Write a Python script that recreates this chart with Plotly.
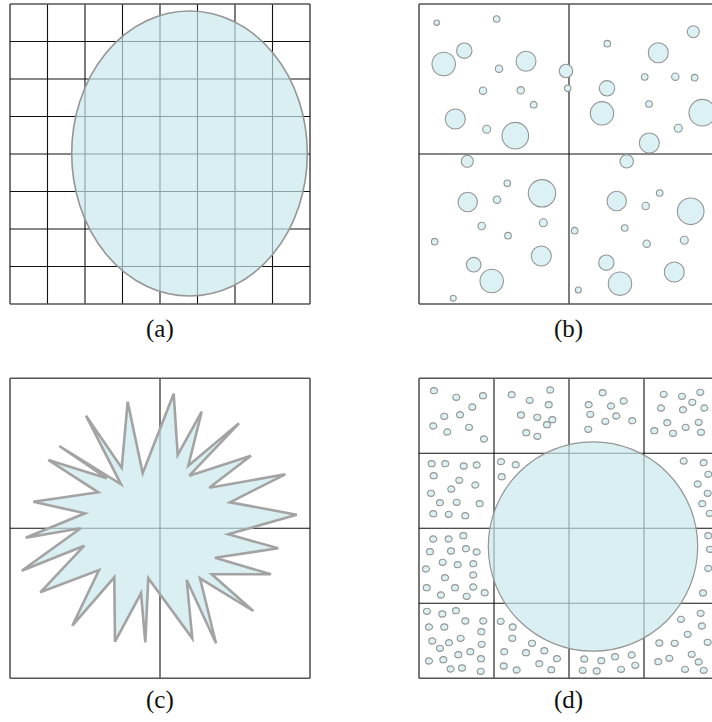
import plotly.graph_objects as go

# ---------------- data ----------------
# panel (a): regular grid and an ellipse
a_grid_x = [10, 47.5, 85, 122.5, 160, 197.5, 235, 272.5, 310]
a_grid_y = [4, 41.5, 79, 116.5, 154, 191.5, 229, 266.5, 304]
a_ellipse_center = [189.5, 153.5]
a_ellipse_radii = [117.8, 142.5]

# panel (b): 2x2 cells and scattered bubbles
b_grid_x = [419, 569, 719]
b_grid_y = [4, 154, 304]
b_bub_x = [436.7, 496.7, 464.3, 443.7, 526.0, 499.0, 566.0, 483.0, 520.7, 567.7, 533.7, 455.3, 486.7, 515.3,
           693.3, 607.3, 658.3, 644.7, 675.3, 694.7, 607.0, 649.0, 602.0, 702.3, 678.3, 649.3,
           467.3, 507.3, 542.0, 467.7, 497.0, 543.3, 481.7, 508.0, 434.7, 541.3, 473.7, 491.7, 453.3,
           626.7, 659.7, 616.7, 645.7, 690.7, 574.7, 624.7, 684.3, 646.7, 606.3, 674.3, 620.0, 578.3]
b_bub_y = [22.7, 19.0, 50.7, 64.0, 61.3, 68.7, 71.0, 90.7, 90.3, 88.3, 104.7, 119.0, 129.3, 135.7,
           31.7, 43.7, 52.7, 77.0, 76.7, 77.7, 88.3, 104.0, 113.3, 112.7, 128.3, 143.0,
           161.3, 183.3, 193.3, 202.0, 199.7, 222.7, 226.0, 235.7, 241.7, 256.0, 264.7, 281.0, 298.3,
           161.3, 193.0, 201.0, 206.0, 211.3, 230.7, 228.0, 240.3, 243.7, 262.7, 272.0, 283.7, 290.0]
b_bub_r = [2.7, 3.3, 7.7, 11.7, 10.0, 3.7, 6.7, 3.7, 3.7, 3.3, 3.3, 10.0, 4.0, 13.3,
           6.0, 3.3, 10.0, 3.3, 3.7, 3.3, 7.7, 3.3, 11.7, 13.3, 4.0, 10.0,
           6.0, 3.3, 13.7, 9.7, 3.7, 4.0, 3.7, 3.3, 3.3, 10.0, 7.3, 11.7, 3.0,
           6.7, 3.3, 9.7, 3.7, 13.3, 3.3, 3.3, 4.0, 3.7, 7.7, 10.0, 11.7, 3.0]

# panel (c): 2x2 cells and an irregular star
c_grid_x = [10, 160, 310]
c_grid_y = [378.3, 528.3, 678.3]
star_x = [173.7, 177.7, 201.7, 188.3, 239.0, 189.3, 251.0, 209.3, 285.3, 230.0, 296.7, 228.3,
          278.3, 215.0, 271.0, 211.7, 253.3, 200.0, 216.0, 186.7, 192.3, 148.3, 145.3, 141.0,
          115.0, 114.3, 72.3, 99.0, 40.3, 84.3, 21.7, 80.7, 25.7, 85.0, 33.3, 98.3,
          48.3, 106.7, 59.3, 121.0, 86.0, 121.7, 127.7, 142.7]
star_y = [393.7, 455.0, 411.7, 465.7, 423.3, 475.7, 455.7, 487.7, 474.3, 502.3, 514.7, 534.3,
          548.3, 557.7, 574.3, 574.3, 611.0, 578.3, 643.3, 580.0, 638.3, 578.3, 642.3, 593.3,
          641.7, 577.3, 625.7, 570.0, 592.3, 545.7, 570.7, 528.3, 537.7, 513.3, 501.7, 492.3,
          460.0, 478.3, 446.0, 484.3, 415.7, 467.7, 401.7, 473.3]

# panel (d): 4x4 cells, a big circle and many small particles
d_grid_x = [419, 494, 569, 644, 719]
d_grid_y = [378.3, 453.3, 528.3, 603.3, 678.3]
d_circle_center = [593, 546.5]
d_circle_radius = 104.7
d_part_x = [434.0, 456.3, 483.0, 472.3, 460.0, 444.3, 433.3, 447.3, 469.0, 484.0,
            511.7, 550.3, 529.7, 548.7, 521.0, 537.3, 552.3, 547.0, 526.3, 537.3,
            602.7, 623.7, 588.7, 611.0, 590.3, 616.3, 605.3, 632.3, 588.3,
            663.7, 682.0, 700.3, 692.3, 661.0, 683.0, 704.3, 667.3, 654.3, 673.0, 685.7, 698.7, 701.0,
            431.7, 445.3, 463.7, 476.7, 433.7, 459.3, 475.3, 451.3, 431.0, 440.0, 456.7, 479.7, 433.3, 448.7, 465.3,
            501.0, 515.7, 501.7,
            683.7, 703.7, 708.3, 697.7, 707.7, 702.3, 709.7,
            433.3, 448.7, 463.3, 430.0, 451.0, 466.0, 476.7, 442.7, 457.7, 473.3, 426.0, 445.0, 473.3,
            426.7, 455.0, 473.3, 441.0, 466.7, 484.7,
            708.3, 710.0, 708.3, 703.0,
            427.0, 442.3, 456.0, 465.3, 483.3, 429.0, 444.3, 481.3, 432.3, 449.0, 460.7, 481.7, 440.0,
            458.3, 470.3, 481.0, 429.0, 443.3, 450.7, 462.0, 480.7,
            500.7, 512.7, 512.3, 532.0, 504.3, 526.0, 544.3, 557.0, 503.7, 516.7, 539.3, 551.3,
            584.3, 601.3, 615.0, 631.7, 582.7, 596.7, 621.0, 635.3,
            700.7, 681.0, 702.0, 687.7, 707.7, 659.3, 674.7, 691.7, 658.3, 669.3, 685.0, 698.7, 703.7]
d_part_y = [390.7, 397.3, 395.7, 407.0, 414.7, 416.3, 426.0, 432.0, 427.3, 439.0,
            394.7, 390.0, 400.3, 404.7, 415.0, 417.3, 419.7, 424.7, 432.7, 436.3,
            392.7, 401.0, 404.7, 406.0, 414.3, 416.0, 421.3, 420.7, 429.3,
            394.3, 396.3, 392.3, 402.3, 408.0, 409.7, 408.0, 422.7, 430.7, 433.3, 427.3, 422.3, 432.3,
            463.7, 463.7, 466.0, 465.0, 475.7, 480.3, 485.0, 489.0, 493.3, 502.7, 502.3, 503.7, 513.7, 514.3, 515.7,
            461.7, 464.7, 476.7,
            461.0, 462.7, 474.3, 484.0, 493.3, 503.7, 513.3,
            539.0, 539.0, 535.7, 551.7, 551.0, 548.7, 552.0, 562.3, 564.7, 563.7, 569.0, 577.7, 575.0,
            587.7, 587.7, 587.0, 595.0, 596.3, 592.7,
            535.7, 549.3, 568.3, 593.0,
            611.3, 614.0, 610.7, 621.0, 621.0, 627.0, 627.0, 631.7, 641.0, 642.7, 638.3, 644.3, 648.3,
            654.7, 651.7, 658.7, 661.0, 659.7, 669.0, 668.0, 671.3,
            621.3, 627.0, 638.3, 643.3, 651.7, 652.7, 650.7, 658.7, 666.0, 670.0, 663.7, 669.7,
            659.0, 660.7, 656.7, 655.0, 670.3, 671.0, 669.3, 665.3,
            613.3, 619.3, 626.0, 634.3, 642.3, 643.0, 643.3, 654.3, 661.7, 658.3, 669.3, 662.0, 670.3]
d_part_r = 3.5

panel_labels = ["(a)", "(b)", "(c)", "(d)"]
label_x = [160, 568, 160, 568]
label_y = [329, 329, 700, 700]

# ---------------- styles ----------------
FILL_T = "rgba(200,232,236,0.68)"   # translucent fill over grid lines
FILL = "#dbf1f3"
EDGE = "#959595"
LINE = "#111111"
BORDER = "#555555"

shapes = []


def grid(xs, ys):
    for i, x in enumerate(xs):
        outer = i in (0, len(xs) - 1)
        shapes.append(dict(type="line", xref="x", yref="y", x0=x, x1=x, y0=ys[0], y1=ys[-1],
                           line=dict(color=BORDER if outer else LINE, width=1.6 if outer else 1.1)))
    for j, y in enumerate(ys):
        outer = j in (0, len(ys) - 1)
        shapes.append(dict(type="line", xref="x", yref="y", x0=xs[0], x1=xs[-1], y0=y, y1=y,
                           line=dict(color=BORDER if outer else LINE, width=1.6 if outer else 1.1)))


def circle(cx, cy, rx, ry, fill, edge, width):
    shapes.append(dict(type="circle", xref="x", yref="y", x0=cx - rx, x1=cx + rx, y0=cy - ry, y1=cy + ry,
                       fillcolor=fill, line=dict(color=edge, width=width)))


# (a)
grid(a_grid_x, a_grid_y)
circle(a_ellipse_center[0], a_ellipse_center[1], a_ellipse_radii[0], a_ellipse_radii[1], FILL_T, EDGE, 1.6)

# (b)
grid(b_grid_x, b_grid_y)
for x, y, r in zip(b_bub_x, b_bub_y, b_bub_r):
    circle(x, y, r, r, FILL, EDGE, 1.1)

# (c)
grid(c_grid_x, c_grid_y)
path = "M " + " L ".join(f"{x},{y}" for x, y in zip(star_x, star_y)) + " Z"
shapes.append(dict(type="path", xref="x", yref="y", path=path, fillcolor=FILL_T,
                   line=dict(color="#a3a3a3", width=2.6)))

# (d)
grid(d_grid_x, d_grid_y)
for x, y in zip(d_part_x, d_part_y):
    circle(x, y, d_part_r, d_part_r * 0.88, FILL, EDGE, 1.1)
circle(d_circle_center[0], d_circle_center[1], d_circle_radius, d_circle_radius, FILL_T, EDGE, 1.2)

fig = go.Figure()
fig.add_trace(go.Scatter(x=[0, 712], y=[0, 722], mode="markers", marker=dict(opacity=0), hoverinfo="skip"))

annotations = [dict(x=x, y=y, xref="x", yref="y", text=t, showarrow=False, xanchor="center", yanchor="middle",
                    font=dict(family="Liberation Serif, Times New Roman, serif", size=25, color="#111"))
               for t, x, y in zip(panel_labels, label_x, label_y)]

fig.update_layout(
    width=712, height=722, margin=dict(l=0, r=0, t=0, b=0),
    paper_bgcolor="white", plot_bgcolor="white", showlegend=False,
    xaxis=dict(range=[0, 712], visible=False, fixedrange=True),
    yaxis=dict(range=[722, 0], visible=False, fixedrange=True),
    shapes=shapes, annotations=annotations,
)

fig.write_html("out.html", config={"displayModeBar": False},
               post_script="document.body.style.margin='0';document.body.style.padding='0';document.body.style.overflow='hidden';")
